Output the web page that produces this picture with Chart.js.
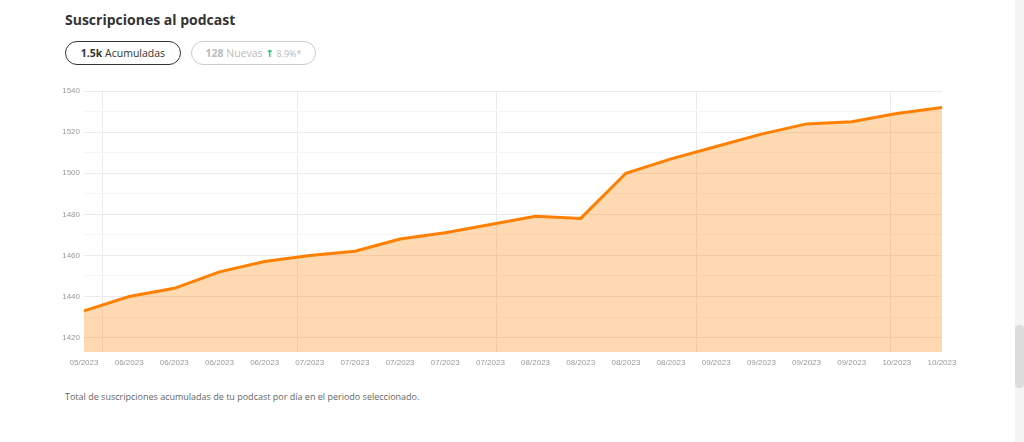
<!DOCTYPE html>
<html>
<head>
<meta charset="utf-8">
<script src="https://cdn.jsdelivr.net/npm/chart.js@4"></script>
<style>
  html,body{margin:0;padding:0;background:#fff;width:1024px;height:442px;overflow:hidden;font-family:"Open Sans",sans-serif;}
  #title{position:absolute;left:65px;top:10px;font-size:14px;font-weight:700;color:#333;}
  .pill{position:absolute;top:41px;height:22px;border-radius:12px;box-sizing:content-box;font-size:10.5px;line-height:22px;text-align:center;white-space:nowrap;}
  #p1{left:65px;width:114px;border:1px solid #333;color:#333;}
  #p2{left:191px;width:123px;border:1px solid #ccc;color:#bbb;}
  #p2 .up{color:#2fb37a;font-size:10px;font-weight:700;font-family:"DejaVu Sans",sans-serif;}
  #p2 .pct{font-size:9px;}
  #foot{position:absolute;left:65px;top:390px;font-size:9px;color:#666;}
  #wrap{position:absolute;left:0;top:80px;width:1000px;height:300px;}
  #track{position:absolute;left:1015px;top:0;width:9px;height:442px;background:#f4f4f4;}
  #thumb{position:absolute;left:1015px;top:325px;width:9px;height:63px;background:#dcdcdc;border-radius:4px;}
</style>
</head>
<body>
<div id="title">Suscripciones al podcast</div>
<div class="pill" id="p1"><b>1.5k</b> Acumuladas</div>
<div class="pill" id="p2"><b>128</b> Nuevas <span class="up">&#8593;</span> <span class="pct">8.9%*</span></div>
<div id="wrap"><canvas id="c"></canvas></div>
<div id="foot">Total de suscripciones acumuladas de tu podcast por día en el periodo seleccionado.</div>
<div id="track"></div><div id="thumb"></div>
<script>
const labels = ["05/2023","06/2023","06/2023","06/2023","06/2023","07/2023","07/2023","07/2023","07/2023","07/2023","08/2023","08/2023","08/2023","08/2023","09/2023","09/2023","09/2023","09/2023","10/2023","10/2023"];
const subscriptions = [1433,1440,1444,1452,1457,1460,1462,1468,1471,1475,1479,1478,1500,1507,1513,1519,1524,1525,1529,1532];
const yTicks = [1420,1430,1440,1450,1460,1470,1480,1490,1500,1510,1520,1530,1540];
const monthGridTicks = [0.42,4.72,9.14,13.57,17.87];

new Chart(document.getElementById('c'), {
  type: 'line',
  data: {
    labels: labels,
    datasets: [{
      data: subscriptions,
      borderColor: '#ff8000',
      backgroundColor: 'rgba(255,128,0,0.3)',
      borderWidth: 3,
      fill: true,
      pointRadius: 0,
      tension: 0
    }]
  },
  options: {
    responsive: true,
    maintainAspectRatio: false,
    animation: false,
    layout: { padding: { left: 54, right: 58, top: 11, bottom: 6 } },
    plugins: { legend: { display: false }, tooltip: { enabled: false } },
    scales: {
      x: {
        type: 'category',
        offset: false,
        grid: { display: false, drawTicks: false },
        border: { display: false },
        ticks: { color: '#999', font: { family: 'Liberation Sans', size: 8 }, maxRotation: 0, autoSkip: false, padding: 6 },
        afterFit: s => { s.height = 22; }
      },
      xg: {
        type: 'linear',
        position: 'bottom',
        min: 0, max: 19,
        grid: { color: '#ebebeb', drawTicks: false },
        border: { display: false },
        ticks: { display: false },
        afterBuildTicks: s => { s.ticks = monthGridTicks.map(v => ({ value: v })); },
        afterFit: s => { s.height = 0; }
      },
      y: {
        min: 1413, max: 1540,
        grid: { color: ctx => (ctx.tick && ctx.tick.value % 20 === 0) ? '#ebebeb' : '#f5f5f5', drawTicks: false },
        border: { display: false },
        afterBuildTicks: s => { s.ticks = yTicks.map(v => ({ value: v })); },
        ticks: { color: '#999', font: { family: 'Liberation Sans', size: 8 }, padding: 4,
          callback: v => (v % 20 === 0 ? String(v) : '') },
        afterFit: s => { s.width = 30; }
      }
    }
  }
});
</script>
</body>
</html>
